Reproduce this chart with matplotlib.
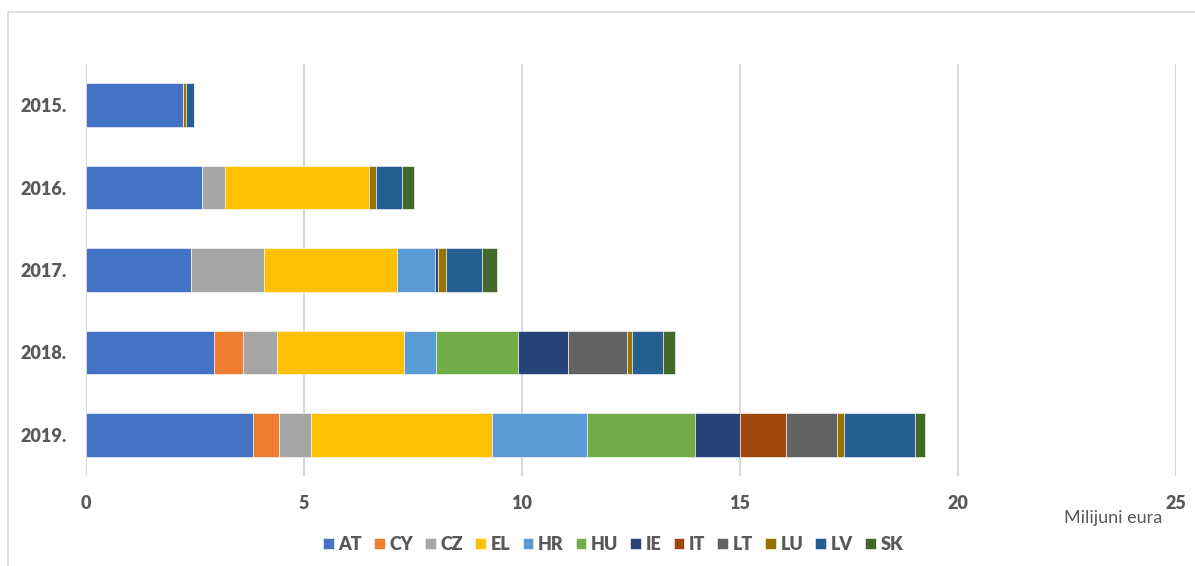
import matplotlib.pyplot as plt
from matplotlib.patches import Rectangle

plt.rcParams['font.family'] = ['Lato', 'DejaVu Sans']

years = ['2015.', '2016.', '2017.', '2018.', '2019.']
countries = ['AT', 'CY', 'CZ', 'EL', 'HR', 'HU', 'IE', 'IT', 'LT', 'LU', 'LV', 'SK']

# milijuni eura po zemlji, redom po godinama
AT = [2.23, 2.66, 2.40, 2.93, 3.83]
CY = [0.00, 0.00, 0.00, 0.68, 0.59]
CZ = [0.00, 0.53, 1.68, 0.77, 0.73]
EL = [0.00, 3.29, 3.05, 2.92, 4.17]
HR = [0.00, 0.00, 0.88, 0.72, 2.17]
HU = [0.00, 0.00, 0.00, 1.89, 2.49]
IE = [0.00, 0.00, 0.07, 1.15, 1.01]
IT = [0.00, 0.00, 0.00, 0.00, 1.07]
LT = [0.00, 0.00, 0.00, 1.36, 1.17]
LU = [0.06, 0.17, 0.18, 0.10, 0.15]
LV = [0.19, 0.59, 0.82, 0.72, 1.63]
SK = [0.00, 0.28, 0.34, 0.28, 0.24]

series = [AT, CY, CZ, EL, HR, HU, IE, IT, LT, LU, LV, SK]
colors = ['#4472C4', '#ED7D31', '#A5A5A5', '#FFC000', '#5B9BD5', '#70AD47',
          '#264478', '#9E480E', '#636363', '#997300', '#255E91', '#43682B']

fig = plt.figure(figsize=(11.95, 5.66), dpi=100)
ax = fig.add_axes([0.072, 0.159, 0.912, 0.728])

y = list(range(len(years)))
left = [0.0] * len(years)
for name, vals, col in zip(countries, series, colors):
    ax.barh(y, vals, left=left, height=0.53, color=col, label=name,
            edgecolor='white', linewidth=0.4, zorder=3)
    left = [l + v for l, v in zip(left, vals)]

ax.set_xlim(0, 25)
ax.set_ylim(4.5, -0.5)
ax.set_xticks([0, 5, 10, 15, 20, 25])
ax.set_yticks(y)
ax.set_yticklabels(years)
ax.grid(axis='x', color='#D9D9D9', linewidth=1.5, zorder=0)
for s in ax.spines.values():
    s.set_visible(False)
ax.tick_params(axis='both', length=0, labelsize=13, labelcolor='#595959')
ax.tick_params(axis='x', pad=14)
ax.tick_params(axis='y', pad=14)
for lbl in ax.get_xticklabels() + ax.get_yticklabels():
    lbl.set_fontweight('heavy')

fig.text(0.973, 0.085, 'Milijuni eura', ha='right', va='center',
         fontsize=13, color='#595959')

leg = fig.legend(loc='center', bbox_to_anchor=(0.513, 0.038), ncol=12,
                 frameon=False, fontsize=13, handlelength=0.6, handleheight=0.6,
                 handletextpad=0.25, columnspacing=0.67)
for t in leg.get_texts():
    t.set_color('#595959')
    t.set_fontweight('heavy')

# okvir grafikona (vidljiv samo gore i lijevo)
fig.patches.append(Rectangle((8 / 1195, -0.1), 1.2, 1.1 - 12 / 566,
                             transform=fig.transFigure, fill=False,
                             edgecolor='#D9D9D9', linewidth=1.2))

fig.savefig('out.png', dpi=100)
